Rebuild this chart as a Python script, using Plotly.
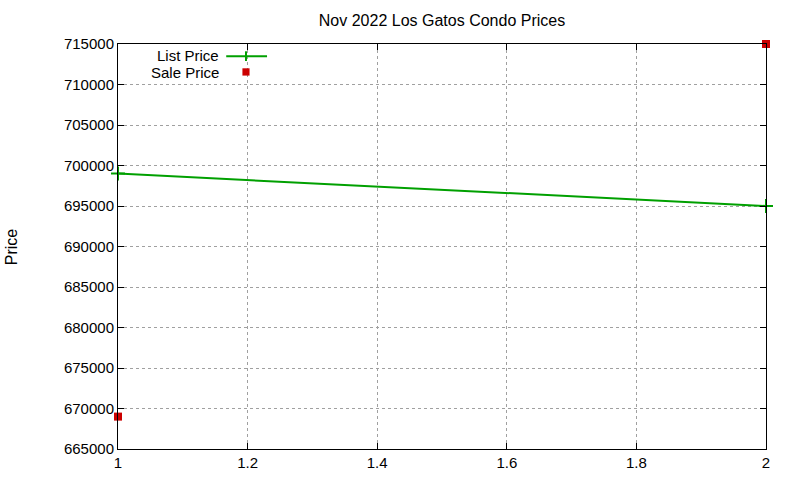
import plotly.graph_objects as go

# data
days = [1, 2]
list_price = [699000, 695000]
sale_price = [669000, 715000]
xticks = [1, 1.2, 1.4, 1.6, 1.8, 2]
yticks = list(range(665000, 715001, 5000))

font = "Liberation Sans, Arial, sans-serif"

fig = go.Figure()
fig.add_trace(go.Scatter(x=days, y=list_price, mode="lines+markers", name="List Price",
                         line=dict(color="#00a000", width=2),
                         marker=dict(symbol="cross-thin", size=10, color="#00a000",
                                     line=dict(color="#00a000", width=2)),
                         cliponaxis=False, showlegend=False))
fig.add_trace(go.Scatter(x=days, y=sale_price, mode="markers", name="Sale Price",
                         marker=dict(symbol="square", size=8, color="#cc0000"),
                         cliponaxis=False, showlegend=False))

axis = dict(showline=True, linecolor="black", linewidth=1, mirror="allticks",
            ticks="inside", ticklen=6, tickcolor="black", automargin=False,
            showgrid=True, gridcolor="#a0a0a0", griddash="dot", gridwidth=1,
            zeroline=False, tickfont=dict(size=15, color="black"))

fig.update_xaxes(range=[1, 2], tickvals=xticks, ticktext=[f"{v:g}" for v in xticks], **axis)
fig.update_yaxes(range=[665000, 715000], tickvals=yticks,
                 ticktext=[str(v) for v in yticks], **axis)

# gnuplot style key: text on the left, sample on the right
fig.add_annotation(x=0.157, y=0.9728, xref="paper", yref="paper", text="List Price",
                   showarrow=False, xanchor="right", yanchor="middle", borderpad=0,
                   font=dict(size=15, color="black"))
fig.add_annotation(x=0.157, y=0.9284, xref="paper", yref="paper", text="Sale Price",
                   showarrow=False, xanchor="right", yanchor="middle", borderpad=0,
                   font=dict(size=15, color="black"))
fig.add_shape(type="line", xref="paper", yref="paper", x0=0.167, x1=0.230, y0=0.970, y1=0.970,
              line=dict(color="#00a000", width=2))
fig.add_shape(type="line", xref="paper", yref="paper", x0=0.1975, x1=0.1975, y0=0.958, y1=0.982,
              line=dict(color="#00a000", width=2))
fig.add_shape(type="rect", xref="paper", yref="paper", x0=0.192, x1=0.203, y0=0.922, y1=0.940,
              line=dict(width=0), fillcolor="#cc0000")

fig.add_annotation(x=-0.164, y=0.5, xref="paper", yref="paper", text="Price", textangle=-90,
                   showarrow=False, xanchor="center", yanchor="middle",
                   font=dict(size=16, color="black"))

fig.update_layout(width=800, height=480,
                  margin=dict(l=118, r=34, t=44, b=31, autoexpand=False),
                  title=dict(text="Nov 2022 Los Gatos Condo Prices", x=0.5525, y=0.958,
                             xanchor="center", yanchor="middle",
                             font=dict(size=16, color="black", family=font)),
                  font=dict(family=font), plot_bgcolor="white", paper_bgcolor="white")

fig.write_html("out.html", config={"displayModeBar": False},
               post_script="document.body.style.margin='0';")
